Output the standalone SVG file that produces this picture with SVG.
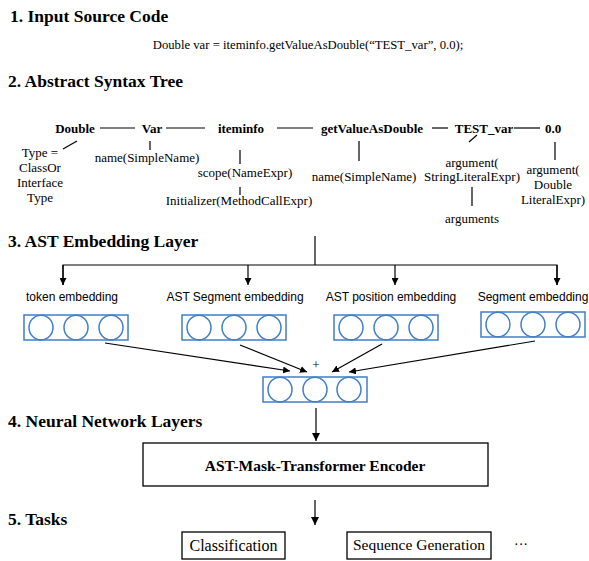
<svg xmlns="http://www.w3.org/2000/svg" width="589" height="561" viewBox="0 0 589 561">
<defs>
<marker id="ah" viewBox="0 0 10 10" refX="10" refY="5" markerWidth="7" markerHeight="7" markerUnits="userSpaceOnUse" orient="auto"><path d="M0,0 L10,5 L0,10 z" fill="#000"/></marker>
<marker id="ahb" viewBox="0 0 10 10" refX="10" refY="5" markerWidth="9" markerHeight="8" markerUnits="userSpaceOnUse" orient="auto"><path d="M0,0 L10,5 L0,10 z" fill="#000"/></marker>
</defs>
<style>
.h{font-family:"Liberation Serif","Times New Roman",serif;font-weight:bold;font-size:17.5px;fill:#000}
.t{font-family:"Liberation Serif","Times New Roman",serif;font-size:13px;fill:#000}
.tb{font-family:"Liberation Serif","Times New Roman",serif;font-size:13px;font-weight:bold;fill:#000}
.m{text-anchor:middle}
.s{font-family:"Liberation Sans",Arial,sans-serif;font-size:12px;fill:#000;text-anchor:middle}
.ln{stroke:#000;stroke-width:1.2;fill:none}
.emb rect,.emb ellipse{fill:none;stroke:#3f7fc8;stroke-width:1.5}
.box{fill:#fff;stroke:#000;stroke-width:1.3}
</style>
<rect width="589" height="561" fill="#fff"/>

<g id="headings">
<text class="h" x="10" y="22">1. Input Source Code</text>
<text class="h" x="8" y="87">2. Abstract Syntax Tree</text>
<text class="h" x="8" y="247">3. AST Embedding Layer</text>
<text class="h" x="8" y="427">4. Neural Network Layers</text>
<text class="h" x="8" y="525">5. Tasks</text>
</g>

<g id="code"><text class="t m" x="308" y="49" style="font-size:12.7px">Double var = iteminfo.getValueAsDouble(“TEST_var”, 0.0);</text></g>

<g id="ast">
<g id="n-double"><text class="tb m" x="75" y="132.5">Double</text></g>
<g id="n-var"><text class="tb m" x="152" y="132.5">Var</text></g>
<g id="n-iteminfo"><text class="tb m" x="241" y="132.5">iteminfo</text></g>
<g id="n-getvalue"><text class="tb m" x="372" y="132.5">getValueAsDouble</text></g>
<g id="n-testvar"><text class="tb m" x="484" y="132.5">TEST_var</text></g>
<g id="n-zero"><text class="tb m" x="553" y="132.5">0.0</text></g>
<g id="n-type"><text class="t m" x="40" y="157">Type =</text><text class="t m" x="40" y="172">ClassOr</text><text class="t m" x="40" y="187">Interface</text><text class="t m" x="40" y="202">Type</text></g>
<g id="n-name1"><text class="t m" x="147" y="162">name(SimpleName)</text></g>
<g id="n-scope"><text class="t m" x="245" y="177">scope(NameExpr)</text></g>
<g id="n-init"><text class="t m" x="239" y="205">Initializer(MethodCallExpr)</text></g>
<g id="n-name2"><text class="t m" x="364" y="181">name(SimpleName)</text></g>
<g id="n-arg1"><text class="t m" x="472" y="167">argument(</text><text class="t m" x="472" y="181">StringLiteralExpr)</text></g>
<g id="n-args"><text class="t m" x="472" y="223">arguments</text></g>
<g id="n-arg2"><text class="t m" x="553" y="174">argument(</text><text class="t m" x="553" y="189">Double</text><text class="t m" x="553" y="204">LiteralExpr)</text></g>
</g>

<g id="connectors">
<g class="ln">
<line x1="100" y1="128" x2="135" y2="128"/>
<line x1="166" y1="128" x2="205" y2="128"/>
<line x1="277" y1="128" x2="313" y2="128"/>
<line x1="432" y1="128" x2="448" y2="128"/>
<line x1="514" y1="128" x2="540" y2="128"/>
<line x1="77" y1="141" x2="63" y2="149"/>
<line x1="150" y1="141" x2="150" y2="150"/>
<line x1="240" y1="150" x2="240" y2="164"/>
<line x1="240" y1="187" x2="240" y2="195"/>
<line x1="359" y1="141" x2="359" y2="161"/>
<line x1="477" y1="135" x2="469" y2="142"/>
<line x1="472" y1="187" x2="472" y2="206"/>
<line x1="555" y1="142" x2="555" y2="160"/>
<line x1="315" y1="236" x2="315" y2="265"/>
<polyline points="63,285 63,265 557,265 557,285"/>
</g>
<g class="ln" marker-end="url(#ah)">
<line x1="63" y1="265" x2="63" y2="285"/>
<line x1="248" y1="265" x2="248" y2="285"/>
<line x1="395" y1="265" x2="395" y2="285"/>
<line x1="557" y1="265" x2="557" y2="285"/>
<line x1="105" y1="343" x2="290" y2="371"/>
<line x1="240" y1="345" x2="307" y2="372"/>
<line x1="382" y1="344" x2="332" y2="372"/>
<line x1="535" y1="341" x2="349" y2="372"/>
</g>
<text class="t m" x="316" y="369">+</text>
<g class="ln" marker-end="url(#ahb)">
<line x1="316" y1="408" x2="316" y2="441"/>
<line x1="315" y1="500" x2="315" y2="525"/>
</g>
</g>

<g id="emb-labels">
<text class="s" x="72" y="301">token embedding</text>
<text class="s" x="235" y="301">AST Segment embedding</text>
<text class="s" x="391" y="301">AST position embedding</text>
<text class="s" x="533" y="301">Segment embedding</text>
</g>

<g id="emb-token" class="emb"><rect x="24" y="315" width="104" height="25"/><ellipse cx="41" cy="327.5" rx="12" ry="12.3"/><ellipse cx="76" cy="327.5" rx="12" ry="12.3"/><ellipse cx="111" cy="327.5" rx="12" ry="12.3"/></g>
<g id="emb-astseg" class="emb"><rect x="182" y="315" width="104" height="25"/><ellipse cx="199" cy="327.5" rx="12" ry="12.3"/><ellipse cx="234" cy="327.5" rx="12" ry="12.3"/><ellipse cx="269" cy="327.5" rx="12" ry="12.3"/></g>
<g id="emb-astpos" class="emb"><rect x="334" y="315" width="104" height="25"/><ellipse cx="351" cy="327.5" rx="12" ry="12.3"/><ellipse cx="386" cy="327.5" rx="12" ry="12.3"/><ellipse cx="421" cy="327.5" rx="12" ry="12.3"/></g>
<g id="emb-seg" class="emb"><rect x="481" y="312" width="104" height="25"/><ellipse cx="498" cy="324.5" rx="12" ry="12.3"/><ellipse cx="533" cy="324.5" rx="12" ry="12.3"/><ellipse cx="568" cy="324.5" rx="12" ry="12.3"/></g>
<g id="emb-sum" class="emb"><rect x="263" y="377" width="104" height="25"/><ellipse cx="280" cy="389.5" rx="12" ry="12.3"/><ellipse cx="315" cy="389.5" rx="12" ry="12.3"/><ellipse cx="349" cy="389.5" rx="12" ry="12.3"/></g>

<g id="encoder"><rect class="box" x="143" y="443" width="345" height="43"/><text class="tb m" x="315" y="471" style="font-size:15.5px">AST-Mask-Transformer Encoder</text></g>
<g id="task-cls"><rect class="box" x="182" y="532" width="103" height="27"/><text class="t m" x="233.5" y="551" style="font-size:16px">Classification</text></g>
<g id="task-seq"><rect class="box" x="347" y="532" width="144" height="27"/><text class="t m" x="419" y="550" style="font-size:15.5px">Sequence Generation</text></g>
<g id="task-more"><text class="t m" x="521" y="549" style="font-size:14px">···</text></g>
</svg>
